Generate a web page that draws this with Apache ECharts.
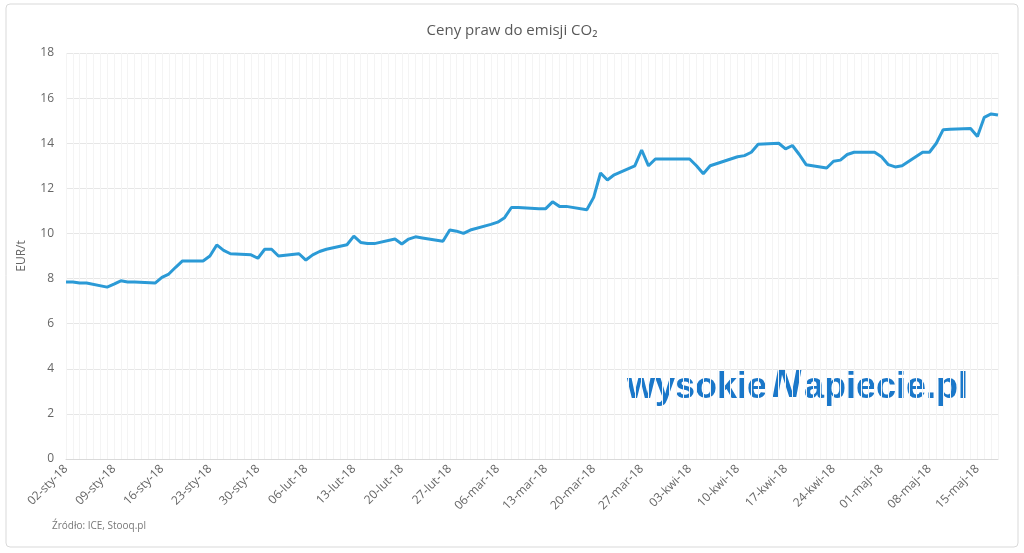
<!DOCTYPE html>
<html><head><meta charset="utf-8">
<script src="https://cdn.jsdelivr.net/npm/echarts@6/dist/echarts.min.js"></script>
<style>html,body{margin:0;background:#fff}#c{width:1024px;height:553px}</style></head>
<body><div id="c"></div>
<script>
const months = ['sty','lut','mar','kwi','maj'];
const startDate = new Date(2018,0,2), endDate = new Date(2018,4,18);
// trading-day prices in order (weekdays from 02-sty-18 to 18-maj-18)
const prices = [
7.85,7.85,7.8,7.8, 7.62,7.75,7.9,7.85,7.85, 7.8,8.05,8.2,8.5,8.78,
8.78,9.0,9.49,9.25,9.1, 9.05,8.9,9.3,9.3,9.0, 9.1,8.82,9.05,9.2,9.3,
9.5,9.88,9.6,9.55,9.55, 9.75,9.53,9.75,9.85,9.8, 9.65,10.15,10.1,10.0,10.15,
10.4,10.5,10.7,11.15,11.15, 11.1,11.1,11.4,11.2,11.2, 11.05,11.6,12.68,12.37,12.6,
13.0,13.7,13.0,13.3,13.3, 13.3,13.3,13.0,12.65,13.0, 13.3,13.4,13.45,13.6,13.95,
14.0,13.75,13.9,13.5,13.05, 12.9,13.2,13.25,13.5,13.6, 13.6,13.4,13.05,12.95,13.0,
13.6,13.6,14.0,14.6,14.62, 14.65,14.3,15.15,15.3,15.25
];
const categories = [], values = [];
let k = 0;
for (let d = new Date(startDate); d <= endDate; d.setDate(d.getDate()+1)) {
  const dd = String(d.getDate()).padStart(2,'0');
  categories.push(dd+'-'+months[d.getMonth()]+'-18');
  const wd = d.getDay();
  values.push(wd===0||wd===6 ? null : prices[k++]);
}
const chart = echarts.init(document.getElementById('c'));
chart.setOption({
  animation:false,
  title:{text:'Ceny praw do emisji CO₂',left:'center',top:18,textStyle:{fontFamily:'Open Sans',fontWeight:'normal',fontSize:15,color:'#595959'}},
  graphic:[
    {type:'rect',shape:{x:6,y:4,width:1012,height:543,r:4},style:{fill:'none',stroke:'#d9d9d9',lineWidth:1},silent:true},
    {type:'text',left:52,top:521,style:{text:'Źródło: ICE, Stooq.pl',fontFamily:'Open Sans',fontSize:10,fill:'#777'}},
    {type:'text',left:627,top:370,style:{text:'wysokie',fontFamily:'Liberation Sans',fontWeight:'bold',fontSize:36,fill:'#1a77c9'}},
    {type:'text',left:772,top:366,style:{text:'N',fontFamily:'Liberation Sans',fontWeight:'bold',fontStyle:'italic',fontSize:40,fill:'#1a77c9'}},
    {type:'text',left:804,top:370,style:{text:'apiecie.pl',fontFamily:'Liberation Sans',fontWeight:'bold',fontSize:36,fill:'#1a77c9'}}
  ],
  grid:{left:66,right:26,top:53,bottom:94},
  xAxis:{type:'category',data:categories,boundaryGap:false,
    axisLine:{lineStyle:{color:'#d9d9d9'}},axisTick:{show:false},
    splitLine:{show:true,interval:0,lineStyle:{color:'#f4f4f4'}},
    axisLabel:{interval:6,rotate:45,color:'#666',fontSize:12,fontFamily:'Open Sans'}},
  yAxis:{type:'value',min:0,max:18,interval:2,name:'EUR/t',nameLocation:'middle',nameGap:38,
    nameTextStyle:{color:'#666',fontSize:12,fontFamily:'Open Sans'},
    axisLabel:{color:'#666',fontSize:12,fontFamily:'Open Sans',margin:12},
    splitLine:{lineStyle:{color:'#e6e6e6'}},axisLine:{show:false},axisTick:{show:false}},
  series:[{type:'line',data:values,connectNulls:true,showSymbol:false,
    lineStyle:{color:'#2b9ad6',width:3},z:3}]
});
</script></body></html>
